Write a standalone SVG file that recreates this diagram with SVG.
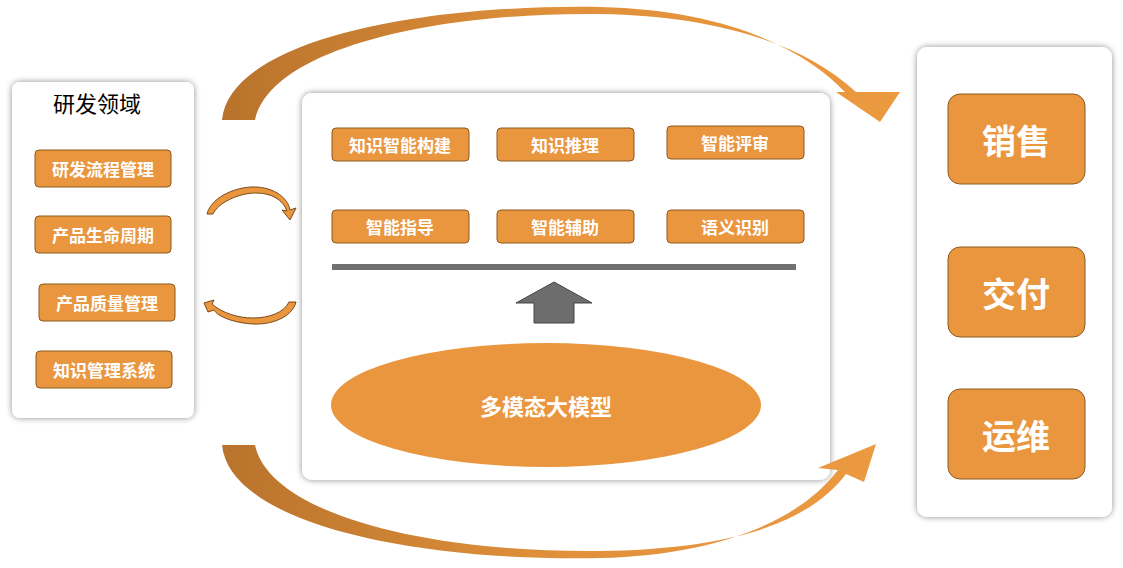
<svg xmlns="http://www.w3.org/2000/svg" width="1123" height="568" viewBox="0 0 1123 568">
<defs>
<filter id="sh" x="-10%" y="-10%" width="120%" height="120%"><feDropShadow dx="0" dy="0" stdDeviation="3" flood-color="#000" flood-opacity="0.45"/></filter>
<linearGradient id="ag" x1="0" x2="1" y1="0" y2="0"><stop offset="0" stop-color="#B8732C"/><stop offset="0.5" stop-color="#E0903A"/><stop offset="1" stop-color="#EC9A40"/></linearGradient>
</defs>
<style>
.panel{fill:#fff;filter:url(#sh)}
.btn{fill:#E9963F;stroke:#8B5A1E;stroke-width:1}
.bt{font-family:"Noto Sans CJK SC","Liberation Sans",sans-serif;font-weight:bold;fill:#fff;font-size:17px;text-anchor:middle;dominant-baseline:central}
.big{font-size:34px}
.arc{fill:url(#ag)}
.sm{fill:#E9963F;stroke:#7A4A18;stroke-width:1}
</style>
<rect width="1123" height="568" fill="#fff"/>
<g id="left">
<rect class="panel" x="12" y="82" width="182" height="336" rx="8"/>
<text x="97" y="102" font-family="Noto Sans CJK SC,Liberation Sans,sans-serif" font-size="22" text-anchor="middle" dominant-baseline="central">研发领域</text>
<rect class="btn" x="35" y="150" width="136" height="37" rx="4"/><text class="bt" x="103" y="168">研发流程管理</text>
<rect class="btn" x="35" y="216" width="136" height="37" rx="4"/><text class="bt" x="103" y="234">产品生命周期</text>
<rect class="btn" x="39" y="284" width="136" height="37" rx="4"/><text class="bt" x="107" y="302">产品质量管理</text>
<rect class="btn" x="36" y="351" width="136" height="37" rx="4"/><text class="bt" x="104" y="369">知识管理系统</text>
</g>
<g id="center">
<rect class="panel" x="302" y="93" width="528" height="387" rx="10"/>
<rect class="btn" x="332" y="128" width="137" height="33" rx="4"/><text class="bt" x="400" y="144">知识智能构建</text>
<rect class="btn" x="497" y="128" width="137" height="33" rx="4"/><text class="bt" x="565" y="144">知识推理</text>
<rect class="btn" x="667" y="126" width="137" height="33" rx="4"/><text class="bt" x="735" y="142">智能评审</text>
<rect class="btn" x="332" y="210" width="137" height="33" rx="4"/><text class="bt" x="400" y="226">智能指导</text>
<rect class="btn" x="497" y="210" width="137" height="33" rx="4"/><text class="bt" x="565" y="226">智能辅助</text>
<rect class="btn" x="667" y="210" width="137" height="33" rx="4"/><text class="bt" x="735" y="226">语义识别</text>
<rect x="332" y="264" width="464" height="6" fill="#707070"/>
<ellipse cx="546" cy="405" rx="215" ry="62" fill="#E9963F"/>
<text class="bt" x="546" y="405" style="font-size:22px">多模态大模型</text>
</g>
<g id="right">
<rect class="panel" x="917" y="47" width="195" height="470" rx="10"/>
<rect class="btn" x="948" y="94" width="137" height="90" rx="12"/><text class="bt big" x="1016" y="139">销售</text>
<rect class="btn" x="948" y="247" width="137" height="90" rx="12"/><text class="bt big" x="1016" y="292">交付</text>
<rect class="btn" x="948" y="389" width="137" height="90" rx="12"/><text class="bt big" x="1016" y="434">运维</text>
</g>
<g id="connectors">
<path class="arc" d="M222,120 C230,40 420,4 600,7 C720,10 800,45 845,92 L836,92 L880,122 L900,92 L856,92 C805,45 720,16 600,14 C430,12 270,50 255,120 Z"/>
<path class="arc" d="M222,445 C230,525 420,562 600,558 C720,555 800,520 838,470 L818,468 L876,444 L864,482 L846,474 C805,528 720,549 600,551 C430,553 270,515 255,445 Z"/>
<path class="sm" d="M207,214 C212,195 240,186 256,187 C275,188 288,198 290,210 L296,208 L290,220 L282,210 L287,211 C283,200 272,193 256,193 C238,193 218,203 213,214 Z"/>
<path class="sm" d="M296,302 C292,318 270,325 253,324 C235,323 218,317 214,310 L208,312 L204,303 L214,300 L212,304 C222,313 238,318 253,318 C268,318 284,313 289,302 Z"/>
<polygon points="554,282 516,303 534,303 534,323 574,323 574,303 592,303" fill="#6D6D6D" stroke="#444"/>
</g>
</svg>
